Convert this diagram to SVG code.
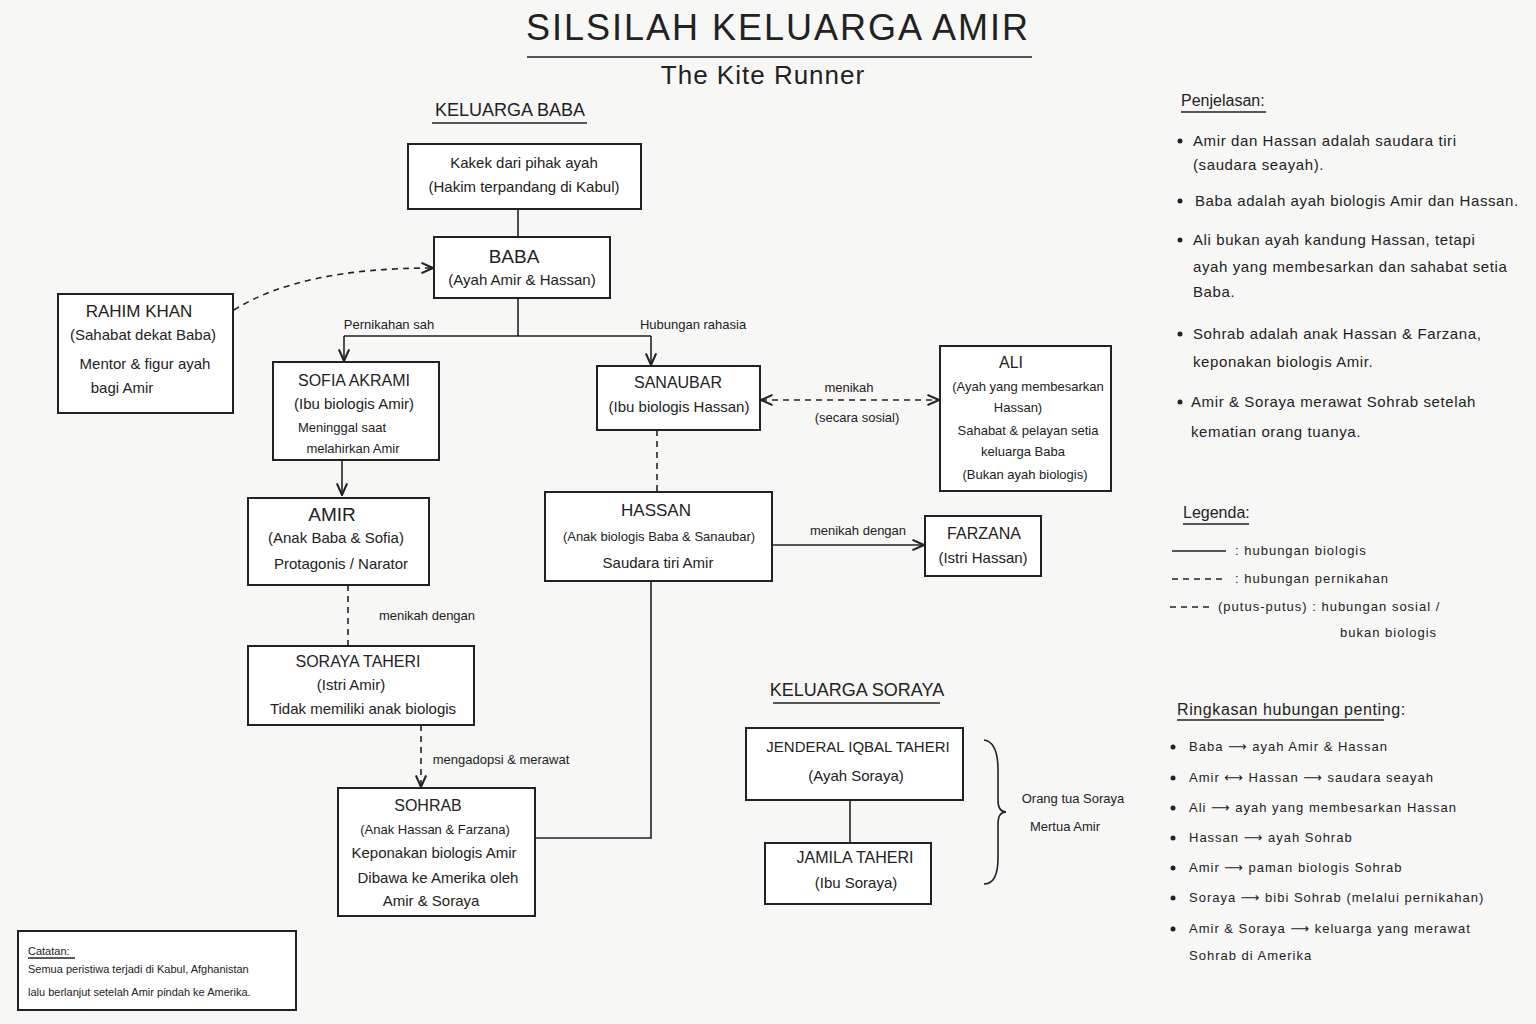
<svg xmlns="http://www.w3.org/2000/svg" width="1536" height="1024" viewBox="0 0 1536 1024">
<defs>
<marker id="ar" viewBox="0 0 10 10" refX="9" refY="5" markerWidth="8" markerHeight="8" orient="auto-start-reverse"><path d="M0,1 L9,5 L0,9" fill="none" stroke="#222" stroke-width="1.6"/></marker>
<style>
text{font-family:"Liberation Sans","DejaVu Sans",sans-serif;fill:#222;text-anchor:middle;font-size:15px}
.l{text-anchor:start}
.b{fill:#fff;stroke:#222;stroke-width:2}
.c{fill:none;stroke:#222;stroke-width:1.6}
.d{stroke-dasharray:6 5}
.h{font-size:19px}
.s{font-size:13px}
.t{font-size:11px}
.r{letter-spacing:0.6px}
.q{letter-spacing:1px}
</style>
</defs>
<rect width="1536" height="1024" fill="#f7f7f6"/>
<text x="778" y="40" style="font-size:36px;letter-spacing:2px">SILSILAH KELUARGA AMIR</text>
<line x1="527" y1="57" x2="1032" y2="57" class="c" stroke-width="2"/>
<text x="763" y="84" style="font-size:26px;letter-spacing:1px">The Kite Runner</text>
<text x="510" y="116" style="font-size:18px">KELUARGA BABA</text>
<line x1="432" y1="123" x2="587" y2="123" class="c"/>
<text x="857" y="696" style="font-size:18px">KELUARGA SORAYA</text>
<line x1="773" y1="703" x2="940" y2="703" class="c"/>

<g id="connectors">
<line x1="518" y1="209" x2="518" y2="237" class="c"/>
<path d="M518,298 V336 M344,336 H651" class="c"/>
<path d="M344,336 V361" class="c" marker-end="url(#ar)"/>
<path d="M651,336 V365" class="c" marker-end="url(#ar)"/>
<text x="389" y="329" class="s">Pernikahan sah</text>
<text x="693" y="329" class="s">Hubungan rahasia</text>
<path d="M234,310 Q300,268 433,268" class="c d" marker-end="url(#ar)"/>
<path d="M761,400 H939" class="c d" marker-start="url(#ar)" marker-end="url(#ar)"/>
<text x="849" y="392" class="s">menikah</text>
<text x="857" y="422" class="s">(secara sosial)</text>
<path d="M342,460 V495" class="c" marker-end="url(#ar)"/>
<path d="M657,430 V492" class="c d"/>
<path d="M772,545 H924" class="c" marker-end="url(#ar)"/>
<text x="858" y="535" class="s">menikah dengan</text>
<path d="M348,585 V646" class="c d"/>
<text x="427" y="620" class="s">menikah dengan</text>
<path d="M421,725 V787" class="c d" marker-end="url(#ar)"/>
<text x="501" y="764" class="s">mengadopsi &amp; merawat</text>
<path d="M651,581 V838 H535" class="c"/>
<line x1="850" y1="800" x2="850" y2="843" class="c"/>
<path d="M984,740 Q998,742 998,770 V800 Q998,812 1006,812 Q998,812 998,824 V858 Q998,884 984,884" class="c"/>
<text x="1073" y="803" class="s">Orang tua Soraya</text>
<text x="1065" y="831" class="s">Mertua Amir</text>
</g>

<g id="kakek"><rect x="408" y="144" width="233" height="65" class="b"/><text x="524" y="168">Kakek dari pihak ayah</text><text x="524" y="192">(Hakim terpandang di Kabul)</text></g>
<g id="baba"><rect x="434" y="237" width="176" height="61" class="b"/><text x="514" y="263" class="h">BABA</text><text x="522" y="285">(Ayah Amir &amp; Hassan)</text></g>
<g id="rahim"><rect x="58" y="294" width="175" height="119" class="b"/><text x="139" y="317" class="h" style="font-size:17px">RAHIM KHAN</text><text x="143" y="340">(Sahabat dekat Baba)</text><text x="145" y="369">Mentor &amp; figur ayah</text><text x="122" y="393">bagi Amir</text></g>
<g id="sofia"><rect x="273" y="362" width="166" height="98" class="b"/><text x="354" y="386" style="font-size:16px">SOFIA AKRAMI</text><text x="354" y="409">(Ibu biologis Amir)</text><text x="342" y="432" class="s">Meninggal saat</text><text x="353" y="453" class="s">melahirkan Amir</text></g>
<g id="sanaubar"><rect x="597" y="366" width="163" height="64" class="b"/><text x="678" y="388" style="font-size:16px">SANAUBAR</text><text x="679" y="412">(Ibu biologis Hassan)</text></g>
<g id="ali"><rect x="940" y="346" width="171" height="145" class="b"/><text x="1011" y="368" style="font-size:16px">ALI</text><text x="1028" y="391" class="s">(Ayah yang membesarkan</text><text x="1018" y="412" class="s">Hassan)</text><text x="1028" y="435" class="s">Sahabat &amp; pelayan setia</text><text x="1023" y="456" class="s">keluarga Baba</text><text x="1025" y="479" class="s">(Bukan ayah biologis)</text></g>
<g id="amir"><rect x="248" y="498" width="181" height="87" class="b"/><text x="332" y="521" class="h">AMIR</text><text x="336" y="543">(Anak Baba &amp; Sofia)</text><text x="341" y="569">Protagonis / Narator</text></g>
<g id="hassan"><rect x="545" y="492" width="227" height="89" class="b"/><text x="656" y="516" style="font-size:17px">HASSAN</text><text x="659" y="541" class="s">(Anak biologis Baba &amp; Sanaubar)</text><text x="658" y="568">Saudara tiri Amir</text></g>
<g id="farzana"><rect x="925" y="516" width="116" height="60" class="b"/><text x="984" y="539" style="font-size:16px">FARZANA</text><text x="983" y="563">(Istri Hassan)</text></g>
<g id="soraya"><rect x="248" y="646" width="226" height="79" class="b"/><text x="358" y="667" style="font-size:16px">SORAYA TAHERI</text><text x="351" y="690">(Istri Amir)</text><text x="363" y="714">Tidak memiliki anak biologis</text></g>
<g id="sohrab"><rect x="338" y="788" width="197" height="128" class="b"/><text x="428" y="811" style="font-size:16px">SOHRAB</text><text x="435" y="834" class="s">(Anak Hassan &amp; Farzana)</text><text x="434" y="858">Keponakan biologis Amir</text><text x="438" y="883">Dibawa ke Amerika oleh</text><text x="431" y="906">Amir &amp; Soraya</text></g>
<g id="jenderal"><rect x="746" y="728" width="217" height="72" class="b"/><text x="858" y="752">JENDERAL IQBAL TAHERI</text><text x="856" y="781">(Ayah Soraya)</text></g>
<g id="jamila"><rect x="765" y="843" width="166" height="61" class="b"/><text x="855" y="863" style="font-size:16px">JAMILA TAHERI</text><text x="856" y="888">(Ibu Soraya)</text></g>
<g id="catatan"><rect x="18" y="931" width="278" height="79" class="b" stroke-width="1.6"/><text x="28" y="955" class="l t">Catatan:</text><line x1="28" y1="958" x2="75" y2="958" class="c" stroke-width="1"/><text x="28" y="973" class="l t">Semua peristiwa terjadi di Kabul, Afghanistan</text><text x="28" y="996" class="l t">lalu berlanjut setelah Amir pindah ke Amerika.</text></g>

<g id="penjelasan">
<text x="1181" y="106" class="l" style="font-size:16px">Penjelasan:</text><line x1="1181" y1="112" x2="1266" y2="112" class="c" stroke-width="1"/>
<g fill="#222"><circle cx="1180" cy="141" r="2.5"/><circle cx="1180" cy="201" r="2.5"/><circle cx="1180" cy="240" r="2.5"/><circle cx="1180" cy="334" r="2.5"/><circle cx="1180" cy="402" r="2.5"/></g>
<text x="1193" y="146" class="l r">Amir dan Hassan adalah saudara tiri</text>
<text x="1193" y="170" class="l r">(saudara seayah).</text>
<text x="1195" y="206" class="l r">Baba adalah ayah biologis Amir dan Hassan.</text>
<text x="1193" y="245" class="l r">Ali bukan ayah kandung Hassan, tetapi</text>
<text x="1193" y="272" class="l r">ayah yang membesarkan dan sahabat setia</text>
<text x="1193" y="297" class="l r">Baba.</text>
<text x="1193" y="339" class="l r">Sohrab adalah anak Hassan &amp; Farzana,</text>
<text x="1193" y="367" class="l r">keponakan biologis Amir.</text>
<text x="1191" y="407" class="l r">Amir &amp; Soraya merawat Sohrab setelah</text>
<text x="1191" y="437" class="l r">kematian orang tuanya.</text>
</g>
<g id="legenda">
<text x="1183" y="518" class="l" style="font-size:16px">Legenda:</text><line x1="1183" y1="524" x2="1249" y2="524" class="c" stroke-width="1"/>
<line x1="1172" y1="551" x2="1226" y2="551" class="c"/><text x="1235" y="555" class="l s q">:  hubungan biologis</text>
<line x1="1172" y1="579" x2="1226" y2="579" class="c d"/><text x="1235" y="583" class="l s q">:  hubungan pernikahan</text>
<line x1="1170" y1="607" x2="1214" y2="607" class="c d" stroke-dasharray="4 4"/><text x="1218" y="611" class="l s q">(putus-putus) :  hubungan sosial /</text>
<text x="1340" y="637" class="l s q">bukan biologis</text>
</g>
<g id="ringkasan">
<text x="1177" y="715" class="l r" style="font-size:16px">Ringkasan hubungan penting:</text><line x1="1177" y1="720" x2="1384" y2="720" class="c" stroke-width="1"/>
<g fill="#222"><circle cx="1173" cy="747" r="2.5"/><circle cx="1173" cy="778" r="2.5"/><circle cx="1173" cy="808" r="2.5"/><circle cx="1173" cy="838" r="2.5"/><circle cx="1173" cy="868" r="2.5"/><circle cx="1173" cy="898" r="2.5"/><circle cx="1173" cy="929" r="2.5"/></g>
<text x="1189" y="751" class="l s q">Baba ⟶ ayah Amir &amp; Hassan</text>
<text x="1189" y="782" class="l s q">Amir ⟷ Hassan ⟶ saudara seayah</text>
<text x="1189" y="812" class="l s q">Ali ⟶ ayah yang membesarkan Hassan</text>
<text x="1189" y="842" class="l s q">Hassan ⟶ ayah Sohrab</text>
<text x="1189" y="872" class="l s q">Amir ⟶ paman biologis Sohrab</text>
<text x="1189" y="902" class="l s q">Soraya ⟶ bibi Sohrab (melalui pernikahan)</text>
<text x="1189" y="933" class="l s q">Amir &amp; Soraya ⟶ keluarga yang merawat</text>
<text x="1189" y="960" class="l s q">Sohrab di Amerika</text>
</g>
</svg>
